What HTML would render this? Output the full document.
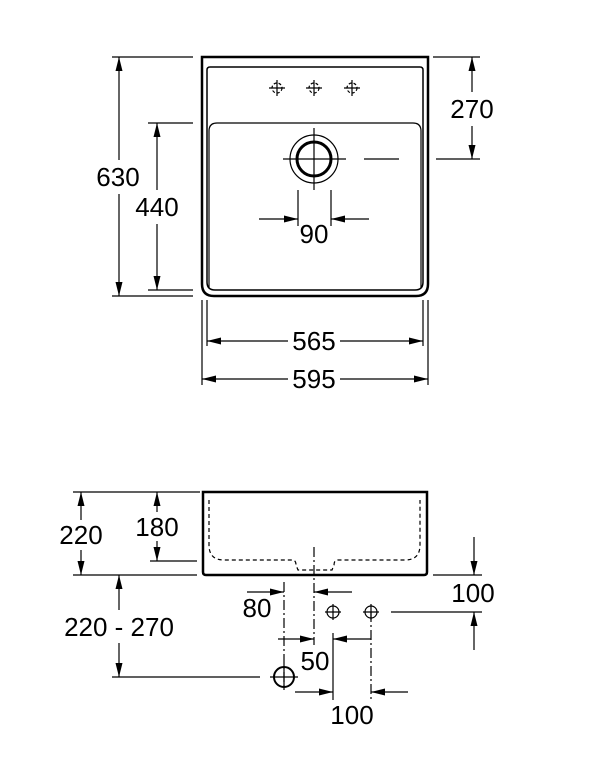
<!DOCTYPE html>
<html><head><style>html,body{margin:0;padding:0;background:#fff}svg{display:block}</style></head>
<body>
<svg width="603" height="770" viewBox="0 0 603 770" xmlns="http://www.w3.org/2000/svg" font-family="Liberation Sans, sans-serif" font-size="26">
<defs>
<marker id="a" viewBox="0 0 14 7" refX="14" refY="3.5" markerWidth="14" markerHeight="7" markerUnits="userSpaceOnUse" orient="auto"><path d="M0,0 L14,3.5 L0,7 z" fill="#000"/></marker>
</defs>
<g stroke="#000" fill="none">
<!-- top view -->
<path d="M202,57 H428 V284 Q428,296 416,296 H214 Q202,296 202,284 Z" stroke-width="2.5"/>
<path d="M210,67 H420 Q423,67 423,70 V282 Q423,290 415,290 H215 Q207,290 207,282 V70 Q207,67 210,67 Z" stroke-width="1.5"/>
<path d="M209,288 V131 Q209,123 217,123 H413 Q421,123 421,131 V288" stroke-width="1.2"/>
<circle cx="314" cy="159" r="24" stroke-width="1.2"/>
<circle cx="314" cy="159" r="17" stroke-width="3"/>
<path d="M283,159 H346 M314,128 V190 M364,159 H399" stroke-width="1.2"/>
<g stroke-width="1.2">
<circle cx="277" cy="88" r="5" stroke-dasharray="3,2"/><path d="M269,88 H285 M277,80 V96"/>
<circle cx="314" cy="88" r="5" stroke-dasharray="3,2"/><path d="M306,88 H322 M314,80 V96"/>
<circle cx="352" cy="88" r="5" stroke-dasharray="3,2"/><path d="M344,88 H360 M352,80 V96"/>
</g>
<g stroke-width="1.2">
<path d="M433,57 H480 M436,159 H480"/>
<path d="M472,92 V57" marker-end="url(#a)"/><path d="M472,126 V159" marker-end="url(#a)"/>
<path d="M298,190 V226 M331,190 V226"/>
<path d="M259,219 H298" marker-end="url(#a)"/><path d="M369,219 H331" marker-end="url(#a)"/>
<path d="M112,57 H193 M112,296 H193 M148,123 H193 M148,290 H193"/>
<path d="M119,160 V57" marker-end="url(#a)"/><path d="M119,194 V296" marker-end="url(#a)"/>
<path d="M157,190 V123" marker-end="url(#a)"/><path d="M157,224 V290" marker-end="url(#a)"/>
<path d="M207,300 V346 M423,300 V346 M202,300 V385 M428,300 V385"/>
<path d="M288,341 H207" marker-end="url(#a)"/><path d="M340,341 H423" marker-end="url(#a)"/>
<path d="M288,379 H202" marker-end="url(#a)"/><path d="M340,379 H428" marker-end="url(#a)"/>
</g>
<!-- side view -->
<path d="M203,492 H427 V572 Q427,575 424,575 H206 Q203,575 203,572 Z" stroke-width="2.5"/>
<path d="M209,500 V545 Q209,560 224,560 H292 Q296,560 296,565 L298,570 H332 L334,565 Q334,560 338,560 H405 Q420,560 420,545 V500" stroke-width="1.2" stroke-dasharray="4,3"/>
<g stroke-width="1.2">
<path d="M314,547 V645" stroke-dasharray="10,3,2,3"/>
<path d="M284,582 V690" stroke-dasharray="10,3,2,3"/>
<path d="M371,612 V700" stroke-dasharray="10,3,2,3"/>
<path d="M333,633 V700"/>
<path d="M73,492 H200 M73,575 H197 M150,561 H197"/>
<path d="M81,520 V492" marker-end="url(#a)"/><path d="M81,550 V575" marker-end="url(#a)"/>
<path d="M157,512 V492" marker-end="url(#a)"/><path d="M157,541 V561" marker-end="url(#a)"/>
<path d="M119,610 V575" marker-end="url(#a)"/><path d="M119,643 V677" marker-end="url(#a)"/>
<path d="M112,677 H260"/>
<circle cx="284" cy="677" r="10" stroke-width="2"/><path d="M270,677 H298 M284,664 V690"/>
<circle cx="333" cy="612" r="6"/><path d="M325,612 H341 M333,604 V620"/>
<circle cx="371" cy="612" r="6"/><path d="M363,612 H379 M371,604 V620"/>
<path d="M247,592 H284" marker-end="url(#a)"/><path d="M352,592 H314" marker-end="url(#a)"/>
<path d="M391,612 H482 M433,575 H482"/>
<path d="M474,537 V575" marker-end="url(#a)"/><path d="M474,650 V612" marker-end="url(#a)"/>
<path d="M278,639 H314" marker-end="url(#a)"/><path d="M371,639 H333" marker-end="url(#a)"/>
<path d="M295,692 H333" marker-end="url(#a)"/><path d="M408,692 H371" marker-end="url(#a)"/>
</g>
</g>
<g fill="#000" text-anchor="middle" dominant-baseline="central">
<text x="472" y="109">270</text>
<text x="314" y="234">90</text>
<text x="118" y="177">630</text>
<text x="157" y="207">440</text>
<text x="314" y="341">565</text>
<text x="314" y="379">595</text>
<text x="81" y="535">220</text>
<text x="157" y="527">180</text>
<text x="119" y="627">220 - 270</text>
<text x="257" y="608">80</text>
<text x="473" y="593">100</text>
<text x="315" y="661">50</text>
<text x="352" y="715">100</text>
</g>
</svg>
</body></html>
